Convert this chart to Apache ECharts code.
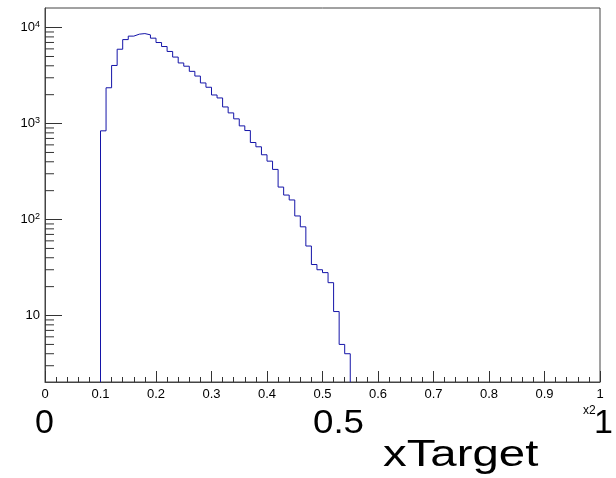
<!DOCTYPE html>
<html>
<head>
<meta charset="utf-8">
<script src="https://cdn.jsdelivr.net/npm/echarts@6/dist/echarts.min.js"></script>
<style>
html,body{margin:0;padding:0;background:#fff;}
#chart{width:616px;height:478px;}
</style>
</head>
<body>
<div id="chart"></div>
<script>
// Histogram: 100 bins over [0,1], width 0.01; non-empty bins start at 0.10
const binWidth = 0.01;
const firstBinLow = 0.10;
const counts = [
  840, 2360, 4030, 5950, 7500, 8150, 8540, 8660, 8400, 7760,
  6990, 6350, 5640, 4930, 4280, 3960, 3500, 3127, 2650, 2390,
  1986, 1849, 1490, 1292, 1120, 946, 846, 635, 573, 473,
  406, 333, 218, 180, 160, 109, 84, 53, 34, 30,
  28, 22, 11, 5, 4
];
const yMin = 2.03;
const yMax = 16000;
const xTickLabels = ['0','0.1','0.2','0.3','0.4','0.5','0.6','0.7','0.8','0.9','1'];
const yMinorTicks = [3,4,5,6,7,8,9,20,30,40,50,60,70,80,90,200,300,400,500,600,700,800,900,2000,3000,4000,5000,6000,7000,8000,9000];
const bigLabels = ['0', '0.5', '1'];
const exponentLabel = 'x2';
const axisTitle = 'xTarget';

// build step-line points from bins
const pts = [[firstBinLow, yMin]];
counts.forEach((c, i) => {
  const lo = +(firstBinLow + i * binWidth).toFixed(4);
  pts.push([lo, c]);
});
const lastHigh = +(firstBinLow + counts.length * binWidth).toFixed(4);
pts.push([lastHigh, counts[counts.length - 1]]);
pts.push([lastHigh, yMin]);

const FONT = 'Liberation Sans, Arial, Helvetica, sans-serif';
const chart = echarts.init(document.getElementById('chart'), null, {renderer: 'canvas'});
chart.setOption({
  animation: false,
  backgroundColor: '#fff',
  grid: {left: 45, right: 16, top: 8, bottom: 96, show: true, borderColor: '#444', borderWidth: 1, backgroundColor: 'transparent'},
  xAxis: {
    type: 'value', min: 0, max: 1, interval: 0.1,
    axisLine: {show: true, lineStyle: {color: '#444', width: 1}},
    axisTick: {show: true, inside: true, length: 11, lineStyle: {color: '#333'}},
    minorTick: {show: true, splitNumber: 5, length: 5, lineStyle: {color: '#333'}},
    splitLine: {show: false},
    axisLabel: {
      fontFamily: FONT, fontSize: 13, color: '#000', margin: 6,
      formatter: v => xTickLabels[Math.round(v * 10)]
    }
  },
  yAxis: {
    type: 'log', logBase: 10, min: yMin, max: yMax,
    axisLine: {show: true, lineStyle: {color: '#444', width: 1}},
    axisTick: {show: true, inside: true, length: 17, lineStyle: {color: '#333'}},
    splitLine: {show: false},
    axisLabel: {
      showMinLabel: false, showMaxLabel: false,
      fontFamily: FONT, color: '#000', margin: 5,
      formatter: v => {
        const e = Math.round(Math.log10(v));
        if (Math.abs(Math.log10(v) - e) > 1e-6) return '';
        if (e === 1) return '{b|10}';
        return '{b|10}{s|' + e + '}';
      },
      rich: {
        b: {fontFamily: FONT, fontSize: 13, color: '#000'},
        s: {fontFamily: FONT, fontSize: 9, color: '#000', verticalAlign: 'top', padding: [0, 0, 7, 0]}
      }
    }
  },
  series: [
    {
      type: 'line', step: 'end', data: pts, showSymbol: false, symbol: 'none',
      lineStyle: {color: '#1414a8', width: 1}, clip: true, silent: true
    },
    {
      type: 'custom', silent: true, clip: true,
      data: yMinorTicks.map(v => [0, v]),
      renderItem: (params, api) => {
        const p = api.coord([0, api.value(1)]);
        return {type: 'line', shape: {x1: p[0], y1: p[1], x2: p[0] + 9, y2: p[1]}, style: {stroke: '#333', lineWidth: 1}};
      }
    }
  ],
  graphic: [
    {type: 'text', x: 35, y: 407, style: {text: bigLabels[0], font: '34px ' + FONT, fill: '#000', verticalAlign: 'top'}},
    {type: 'text', x: 313, y: 407, scaleX: 1.08, style: {text: bigLabels[1], font: '34px ' + FONT, fill: '#000', verticalAlign: 'top'}},
    {type: 'text', x: 594, y: 407, style: {text: bigLabels[2], font: '34px ' + FONT, fill: '#000', verticalAlign: 'top'}},
    {type: 'text', x: 583, y: 405, style: {text: exponentLabel, font: '12px ' + FONT, fill: '#000', verticalAlign: 'top'}},
    {type: 'text', x: 383, y: 437, scaleX: 1.28, style: {text: axisTitle, font: '37px ' + FONT, fill: '#000', verticalAlign: 'top'}}
  ]
});
</script>
</body>
</html>
